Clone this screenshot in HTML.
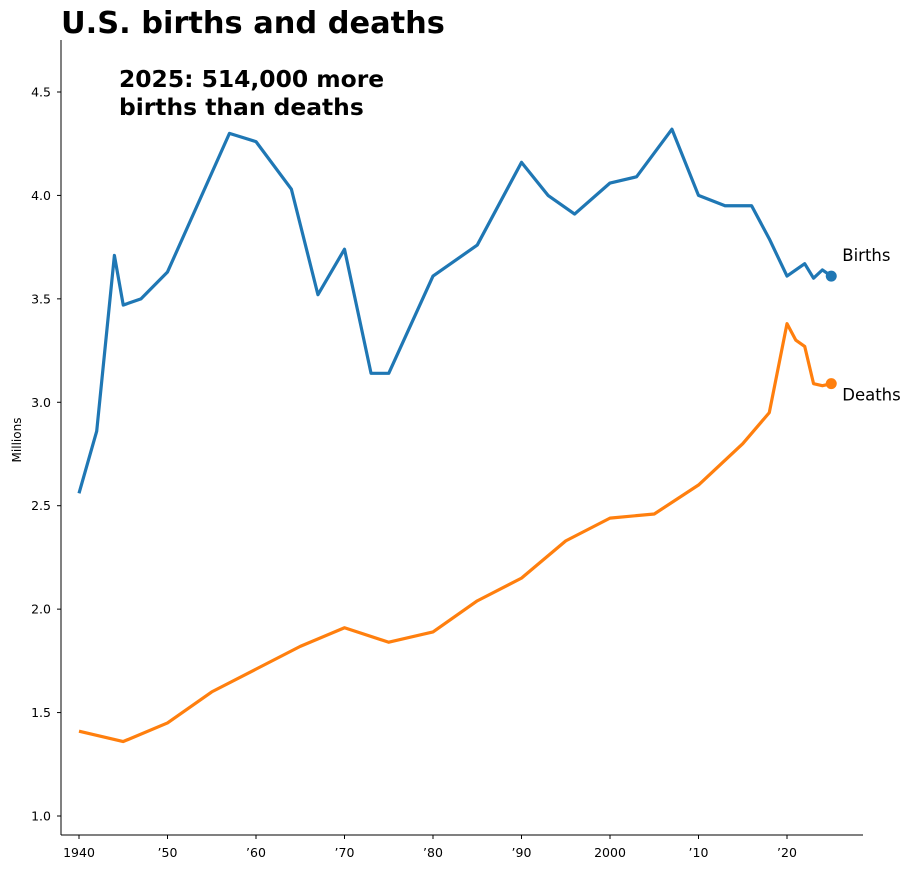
<!DOCTYPE html>
<html><head><meta charset="utf-8"><style>
body{margin:0;background:#fff;font-family:"Liberation Sans","DejaVu Sans",sans-serif}
svg text{font-family:"DejaVu Sans","Liberation Sans",sans-serif}
</style></head><body>
<svg id="chart" width="911" height="869" xmlns="http://www.w3.org/2000/svg">
<text x="61" y="33" font-size="30.4" font-weight="bold">U.S. births and deaths</text>
<text font-size="23.4" font-weight="bold"><tspan x="119" y="87">2025: 514,000 more</tspan><tspan x="119" y="115">births than deaths</tspan></text>
<text transform="translate(21,440) rotate(-90)" font-size="12" text-anchor="middle">Millions</text>
<g id="axes"></g>
<g id="series"></g>
</svg>
<script>
const yTicks=[1.0,1.5,2.0,2.5,3.0,3.5,4.0,4.5];
const xTicks=[1940,1950,1960,1970,1980,1990,2000,2010,2020];
const xTickLabels=["1940","\u201950","\u201960","\u201970","\u201980","\u201990","2000","\u201910","\u201920"];
const birthYears=[1940,1942,1944,1945,1947,1950,1957,1960,1964,1967,1970,1973,1975,1980,1985,1990,1993,1996,2000,2003,2007,2010,2013,2016,2018,2020,2022,2023,2024,2025];
const births=[2.56,2.86,3.71,3.47,3.50,3.63,4.30,4.26,4.03,3.52,3.74,3.14,3.14,3.61,3.76,4.16,4.00,3.91,4.06,4.09,4.32,4.00,3.95,3.95,3.79,3.61,3.67,3.60,3.64,3.61];
const deathYears=[1940,1945,1950,1955,1960,1965,1970,1975,1980,1985,1990,1995,2000,2005,2010,2015,2018,2020,2021,2022,2023,2024,2025];
const deaths=[1.41,1.36,1.45,1.60,1.71,1.82,1.91,1.84,1.89,2.04,2.15,2.33,2.44,2.46,2.60,2.80,2.95,3.38,3.30,3.27,3.09,3.08,3.09];
const NS="http://www.w3.org/2000/svg";
const X=yr=>79+(yr-1940)*8.85;
const Y=v=>816-(v-1)*206.86;
const axes=document.getElementById('axes'), ser=document.getElementById('series');
function mk(tag,attrs,parent,txt){const e=document.createElementNS(NS,tag);for(const k in attrs)e.setAttribute(k,attrs[k]);if(txt!=null)e.textContent=txt;parent.appendChild(e);return e;}
let l=mk('line',{x1:61,y1:40,x2:61,y2:835,stroke:'#000','stroke-width':1},axes);


l=mk('line',{x1:61,y1:835,x2:863,y2:835,stroke:'#000','stroke-width':1},axes);


yTicks.forEach(v=>{
 mk('line',{x1:57,y1:Y(v),x2:61,y2:Y(v),stroke:'#000'},axes);
 const t=mk('text',{x:51,y:Y(v)+4.5,'font-size':12.5,'text-anchor':'end'},axes,v.toFixed(1));
 
 
});
xTicks.forEach((yr,i)=>{
 mk('line',{x1:X(yr),y1:835,x2:X(yr),y2:839,stroke:'#000'},axes);
 const t=mk('text',{x:X(yr),y:857,'font-size':12.5,'text-anchor':'middle'},axes,xTickLabels[i]);
 
 
});
function series(yrs,vals,color,name,label,ly){
 const p=mk('polyline',{points:yrs.map((y,i)=>X(y)+','+Y(vals[i])).join(' '),fill:'none',stroke:color,'stroke-width':3.2,'stroke-linejoin':'round'},ser);
 
 
 const n=yrs.length-1;
 const c=mk('circle',{cx:X(yrs[n]),cy:Y(vals[n]),r:5.5,fill:color},ser);
 
 
 const t=mk('text',{x:X(yrs[n])+11,y:Y(vals[n])+ly,'font-size':16.5},ser,label);
 
 
}
series(birthYears,births,'#1f77b4','births','Births',-15);
series(deathYears,deaths,'#ff7f0e','deaths','Deaths',17);
</script>
</body></html>
